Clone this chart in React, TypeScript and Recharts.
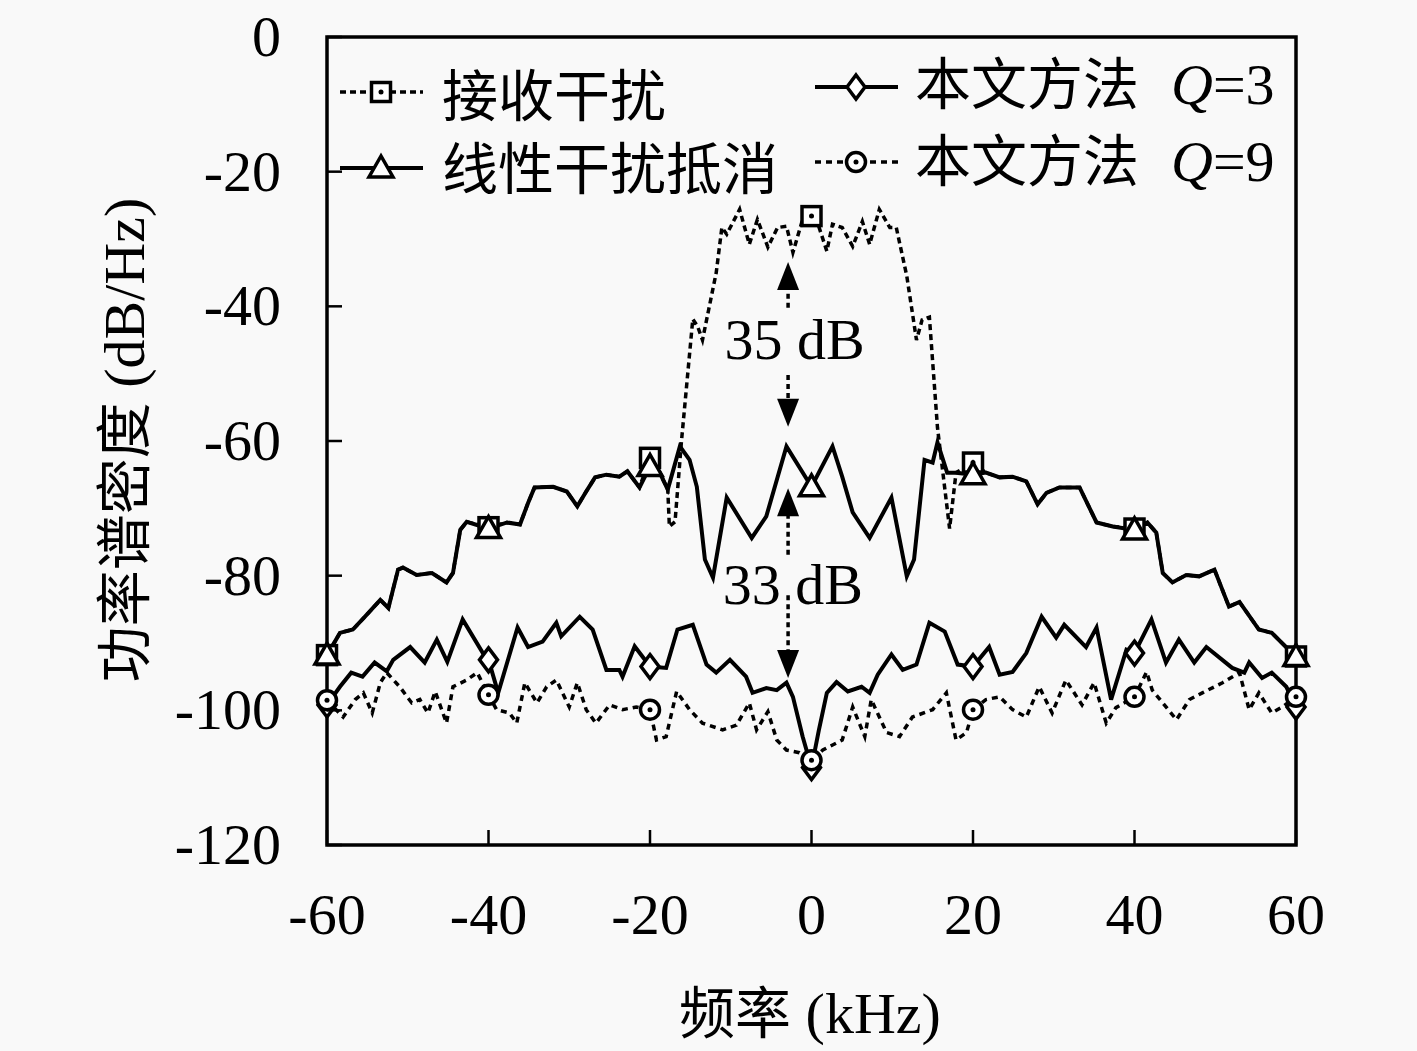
import React from "react";
import { LineChart, Line, XAxis, YAxis, ReferenceArea, ReferenceLine, ReferenceDot, Legend } from "recharts";

const SERIF = "'Liberation Serif', 'DejaVu Serif', serif";
const CJK = "'Noto Sans CJK SC', 'Noto Sans CJK JP', sans-serif";

const X_TICKS = [-60, -40, -20, 0, 20, 40, 60];
const Y_TICKS = [0, -20, -40, -60, -80, -100, -120];
const MARKER_F = [-60, -40, -20, 0, 20, 40, 60];

// [frequency kHz, PSD dB/Hz]
const RECEIVED: [number, number][] = [
  [-60, -91.8], [-58.4, -88.5], [-56.8, -88], [-55.3, -86.1], [-53.4, -83.6], [-52.4, -84.8],
  [-51.2, -79.1], [-50.6, -78.8], [-48.9, -79.9], [-47, -79.6], [-45.2, -81], [-44.4, -79.6],
  [-43.5, -73.2], [-42.7, -72], [-40, -72.8], [-37.7, -72.1], [-36.1, -72.4], [-35.1, -69.2],
  [-34.3, -66.9], [-32, -66.8], [-30.3, -67.5], [-29, -69.7], [-27.9, -67.5], [-26.8, -65.4],
  [-25.4, -65], [-23.8, -65.3], [-22.8, -64.5], [-21.3, -66.9], [-20, -62.5], [-18.8, -64.7],
  [-17.8, -67.2], [-17.6, -72.7], [-16.9, -72], [-16.1, -60], [-14.7, -41.9], [-14.1, -43],
  [-13.5, -45], [-11.8, -35], [-11.1, -28.3], [-10.5, -29.3], [-8.9, -25.6], [-7.7, -30.8],
  [-6.7, -27.1], [-5.4, -31.2], [-4.2, -28.3], [-3.1, -28.1], [-2.3, -32], [-1.1, -27.1],
  [0, -26.6], [0.7, -27.4], [1.9, -31.8], [2.6, -27.8], [3.8, -28.3], [5.1, -31.1],
  [6.3, -27.4], [7.2, -30.8], [8.4, -25.6], [9.7, -28.3], [10.5, -28.3], [11.8, -35.5],
  [13, -45], [13.7, -42], [14.6, -41.6], [15.6, -58], [17.1, -73], [17.9, -64.7],
  [20, -63.2], [21.6, -64.7], [23.3, -65.4], [24.9, -65.3], [26.6, -66], [28, -69.4],
  [29.1, -67.7], [30.7, -66.9], [33.2, -66.9], [35.3, -72.1], [37.3, -72.7], [40, -73],
  [41.6, -72.1], [42.7, -73.6], [43.5, -79.6], [44.7, -81], [46.4, -79.9], [48, -80.1],
  [49.9, -79.1], [51.7, -84.6], [53, -83.9], [55.4, -88], [57, -88.5], [59.1, -91], [60, -92],
];

const LINEAR: [number, number][] = [
  [-60, -91.8], [-58.4, -88.5], [-56.8, -88], [-55.3, -86.1], [-53.4, -83.6], [-52.4, -84.8],
  [-51.2, -79.1], [-50.6, -78.8], [-48.9, -79.9], [-47, -79.6], [-45.2, -81], [-44.4, -79.6],
  [-43.5, -73.2], [-42.7, -72], [-40, -73], [-37.7, -72.1], [-36.1, -72.4], [-35.1, -69.2],
  [-34.3, -66.9], [-32, -66.8], [-30.3, -67.5], [-29, -69.7], [-27.9, -67.5], [-26.8, -65.4],
  [-25.4, -65], [-23.8, -65.3], [-22.8, -64.5], [-21.3, -66.9], [-20, -63.8], [-18.8, -64.7],
  [-17.8, -67.2], [-16.3, -60.8], [-15.1, -62.8], [-14.2, -66.8], [-13.2, -77.6], [-12.2, -80.3],
  [-10.5, -68.4], [-7.4, -74.4], [-5.6, -71.2], [-3.1, -60.8], [0, -66.8], [2.6, -60.8],
  [3.8, -65.3], [5.1, -70.6], [7.2, -74.4], [9.9, -68.4], [11.8, -80.1], [12.7, -77.6],
  [14, -62.8], [15, -63.2], [15.6, -60.2], [16.8, -64.7], [17.9, -64.7], [20, -65],
  [21.6, -64.7], [23.3, -65.4], [24.9, -65.3], [26.6, -66], [28, -69.4], [29.1, -67.7],
  [30.7, -66.9], [33.2, -66.9], [35.3, -72.1], [37.3, -72.7], [40, -73.2], [41.6, -72.1],
  [42.7, -73.6], [43.5, -79.6], [44.7, -81], [46.4, -79.9], [48, -80.1], [49.9, -79.1],
  [51.7, -84.6], [53, -83.9], [55.4, -88], [57, -88.5], [59.1, -91], [60, -92],
];

const PROPOSED_Q3: [number, number][] = [
  [-60, -99.2], [-58.4, -96.5], [-57, -94.4], [-55.6, -95], [-54.1, -92.9], [-52.6, -94.2],
  [-51.8, -92.5], [-49.7, -90.6], [-47.9, -92.9], [-46.4, -89.5], [-45.1, -92.8], [-43.2, -86.5],
  [-40.7, -91.5], [-40, -92.5], [-38.8, -97.4], [-36.4, -87.7], [-35.1, -90.6], [-33.3, -89.8],
  [-31.6, -87], [-31, -89], [-28.7, -86.1], [-27.1, -88], [-25.4, -94], [-23.8, -94],
  [-23.4, -95], [-21.9, -90.5], [-20, -93.5], [-18, -93.7], [-16.6, -88], [-14.7, -87.3],
  [-13, -93.2], [-11.8, -94.4], [-10.1, -92.5], [-8.1, -95], [-7.3, -97.4], [-5.6, -96.7],
  [-4.3, -97], [-3.1, -95.9], [-2.3, -98], [-1.1, -103.9], [0, -108.5], [0.9, -103],
  [1.9, -97.4], [3.1, -95.8], [4.5, -97.2], [6.2, -96.5], [7.2, -97.4], [8.2, -94.7],
  [9.9, -91.7], [11.3, -94], [13, -93.2], [14.6, -87], [16.5, -88.3], [18.1, -93.2],
  [20, -93.5], [22, -90.6], [23.3, -94.7], [24.9, -94.3], [26.6, -91.5], [28.5, -86.1],
  [30.3, -89.2], [31.3, -87.3], [34, -90.6], [35.3, -87.7], [37.1, -98.4], [39, -91],
  [40, -91.5], [42.1, -86.5], [43.9, -92.9], [45.5, -89.5], [47.4, -92.9], [48.9, -90.6],
  [52.1, -93.7], [53.6, -94.4], [54.2, -92.9], [55.8, -95.2], [57, -94.4], [58.8, -96.5],
  [60, -99.5],
];

const PROPOSED_Q9: [number, number][] = [
  [-60, -98.5], [-58, -101], [-56.5, -98.4], [-55.5, -97.4], [-54.4, -100.4], [-53.4, -95.9],
  [-52.6, -94.4], [-51, -96.5], [-49.5, -98.9], [-48.5, -98.4], [-47.5, -100.4], [-46.6, -97.2],
  [-45.2, -101.9], [-44.4, -96.5], [-42.7, -95.5], [-41.4, -94.4], [-40, -97.7], [-39, -99.9],
  [-37.4, -100.4], [-36.5, -101.9], [-35.5, -95.9], [-34, -98.9], [-32.8, -96.5], [-31.6, -95.5],
  [-30, -99.5], [-29, -95.9], [-27.9, -99.9], [-26.7, -101.9], [-25, -99.2], [-23.4, -99.9],
  [-21.7, -99.5], [-20, -99.9], [-19.2, -104.4], [-18, -103.9], [-16.7, -97.2], [-15.1, -99.9],
  [-13.5, -101.9], [-11, -102.9], [-9.3, -102.2], [-7.7, -98.9], [-6.8, -102.9], [-5.4, -100.2],
  [-4.3, -104.4], [-3.1, -105.9], [-1.5, -106.3], [0, -107.4], [1.4, -105.9], [3.8, -104.4],
  [5.1, -99.5], [6.6, -103.9], [7.4, -98.4], [9.3, -103.3], [10.9, -103.9], [12.5, -101],
  [15, -99.9], [16.7, -97.4], [17.9, -104.4], [19.2, -103.3], [20, -99.9], [21.6, -98.4],
  [23.3, -98], [24.9, -99.9], [26.6, -101], [28.2, -96.5], [29.8, -100.4], [31.5, -95.5],
  [33.5, -99.2], [35, -95.9], [36.5, -101.9], [37.7, -99.6], [40, -98], [41.5, -94.3],
  [42.2, -97], [43.5, -98.9], [45.2, -101.4], [46.8, -98.4], [48.4, -97.4], [50.9, -95.9],
  [53, -94.4], [54.2, -99.9], [55.4, -97.4], [57, -100.4], [58.3, -99.5], [60, -98],
];

// annotation arrows: [x, tail, tip]
const ARROWS: [number, number, number][] = [
  [-2.9, -40.2, -33.4],
  [-2.9, -50.2, -57.9],
  [-2.9, -76.9, -67],
  [-2.9, -82.9, -95.2],
];
const NOTES: { x: number; y: number; text: string }[] = [
  { x: -2.1, y: -45, text: "35 dB" },
  { x: -2.3, y: -81.4, text: "33 dB" },
];

type Kind = "square" | "triangle" | "diamond" | "circle";

const SERIES: { key: string; name: string; qv?: string; points: [number, number][]; dash?: string; width: number; marker: Kind }[] = [
  { key: "rx", name: "接收干扰", points: RECEIVED, dash: "6 4", width: 3.5, marker: "square" },
  { key: "lin", name: "线性干扰抵消", points: LINEAR, width: 4, marker: "triangle" },
  { key: "q3", name: "本文方法", qv: "3", points: PROPOSED_Q3, width: 4, marker: "diamond" },
  { key: "q9", name: "本文方法", qv: "9", points: PROPOSED_Q9, dash: "6 5", width: 3.5, marker: "circle" },
];

function Marker({ cx, cy, kind }: { cx: number; cy: number; kind: Kind }) {
  const st = { fill: "#fff", stroke: "#000", strokeWidth: 3.5 };
  if (kind === "square")
    return (
      <g>
        <rect x={cx - 9.5} y={cy - 9.5} width={19} height={19} {...st} />
        <circle cx={cx} cy={cy} r={2.5} fill="#000" />
      </g>
    );
  if (kind === "triangle")
    return <polygon points={`${cx},${cy - 12} ${cx - 12},${cy + 9} ${cx + 12},${cy + 9}`} {...st} />;
  if (kind === "diamond")
    return <polygon points={`${cx},${cy - 12} ${cx + 9},${cy} ${cx},${cy + 12} ${cx - 9},${cy}`} {...st} />;
  return (
    <g>
      <circle cx={cx} cy={cy} r={9.5} {...st} />
      <circle cx={cx} cy={cy} r={2.5} fill="#000" />
    </g>
  );
}

const LegendBox = () => {
  const cols = [
    { lx: 340, tx: 442, rows: [{ y: 92, base: 116 }, { y: 168, base: 189 }] },
    { lx: 815, tx: 915, rows: [{ y: 87, base: 104 }, { y: 162, base: 181 }] },
  ];
  return (
    <svg width={1417} height={230}>
      {SERIES.map((s, i) => {
        const c = cols[Math.floor(i / 2)];
        const r = c.rows[i % 2];
        return (
          <g key={s.key}>
            <line x1={c.lx} x2={c.lx + 83} y1={r.y} y2={r.y} stroke="#000" strokeWidth={s.width} strokeDasharray={s.dash} />
            <Marker cx={c.lx + 41} cy={r.y} kind={s.marker} />
            <text x={c.tx} y={r.base} fontSize={56} fontFamily={CJK} fill="#000">
              {s.name}
              {s.qv && (
                <>
                  <tspan fontFamily={SERIF} fontStyle="italic" fontSize={58} dx={32}>Q</tspan>
                  <tspan fontFamily={SERIF} fontSize={58}>={s.qv}</tspan>
                </>
              )}
            </text>
          </g>
        );
      })}
    </svg>
  );
};

const XTick = (p: any) => (
  <g>
    <line x1={p.x} x2={p.x} y1={p.y} y2={p.y - 15} stroke="#000" strokeWidth={2.5} />
    <text x={p.x} y={p.y + 89} textAnchor="middle" fontSize={58} fontFamily={SERIF} fill="#000">
      {p.payload.value}
    </text>
  </g>
);

const YTick = (p: any) => (
  <g>
    <line x1={p.x} x2={p.x + 15} y1={p.y} y2={p.y} stroke="#000" strokeWidth={2.5} />
    <text x={p.x - 46} y={p.y + 19} textAnchor="end" fontSize={58} fontFamily={SERIF} fill="#000">
      {p.payload.value}
    </text>
  </g>
);

export default function App() {
  return (
    <div style={{ position: "absolute", left: 0, top: 0, width: 1417, height: 1051, background: "#f9f9f9" }}>
      <LineChart width={1417} height={1051} margin={{ top: 37, right: 121, bottom: 106, left: 227 }}>
        <XAxis
          type="number"
          dataKey="f"
          domain={[-60, 60]}
          ticks={X_TICKS}
          height={100}
          axisLine={false}
          tickLine={false}
          tickSize={0}
          tickMargin={0}
          tick={<XTick />}
          allowDuplicatedCategory={false}
          label={{
            content: () => (
              <text x={810} y={1033} textAnchor="middle" fontSize={56} fill="#000">
                <tspan fontFamily={CJK}>频率</tspan>
                <tspan fontFamily={SERIF} fontSize={58}> (kHz)</tspan>
              </text>
            ),
          }}
        />
        <YAxis
          type="number"
          domain={[-120, 0]}
          ticks={Y_TICKS}
          width={100}
          axisLine={false}
          tickLine={false}
          tickSize={0}
          tickMargin={0}
          tick={<YTick />}
          label={{
            content: () => (
              <text transform="translate(144,440) rotate(-90)" textAnchor="middle" fontSize={56} fill="#000">
                <tspan fontFamily={CJK}>功率谱密度</tspan>
                <tspan fontFamily={SERIF} fontSize={58}> (dB/Hz)</tspan>
              </text>
            ),
          }}
        />
        <Legend
          layout="horizontal"
          verticalAlign="middle"
          align="center"
          wrapperStyle={{ position: "absolute", left: 0, top: 0, width: 1417, height: 230 }}
          content={() => <LegendBox />}
        />
        {SERIES.map((s) => (
          <Line
            key={s.key}
            name={s.name}
            data={s.points.map(([f, db]) => ({ f, db }))}
            dataKey="db"
            type="linear"
            stroke="#000"
            strokeWidth={s.width}
            strokeDasharray={s.dash}
            isAnimationActive={false}
            activeDot={false}
            dot={(p: any) =>
              MARKER_F.includes(p.payload.f) ? (
                <Marker key={`${s.key}-${p.index}`} cx={p.cx} cy={p.cy} kind={s.marker} />
              ) : (
                <g key={`${s.key}-${p.index}`} />
              )
            }
          />
        ))}
        {ARROWS.map(([x, tail, tip], i) => {
          const up = tip > tail;
          const base = up ? tip - 4 : tip + 4;
          return (
            <ReferenceLine
              key={`shaft-${i}`}
              segment={[{ x, y: tail }, { x, y: base }]}
              stroke="#000"
              strokeWidth={3.5}
              strokeDasharray="5 4"
            />
          );
        })}
        {ARROWS.map(([x, tail, tip], i) => {
          const up = tip > tail;
          return (
            <ReferenceDot
              key={`head-${i}`}
              x={x}
              y={tip}
              r={0}
              shape={(p: any) => {
                const d = up ? 28 : -28;
                return (
                  <polygon
                    points={`${p.cx},${p.cy} ${p.cx - 11},${p.cy + d} ${p.cx + 11},${p.cy + d}`}
                    fill="#000"
                  />
                );
              }}
            />
          );
        })}
        {NOTES.map((n, i) => (
          <ReferenceDot
            key={`note-${i}`}
            x={n.x}
            y={n.y}
            r={0}
            shape={(p: any) => (
              <text x={p.cx} y={p.cy + 19} textAnchor="middle" fontSize={58} fontFamily={SERIF} fill="#000">
                {n.text}
              </text>
            )}
          />
        ))}
        <ReferenceArea x1={-60} x2={60} y1={-120} y2={0} fill="none" stroke="#000" strokeWidth={3.5} />
      </LineChart>
    </div>
  );
}
